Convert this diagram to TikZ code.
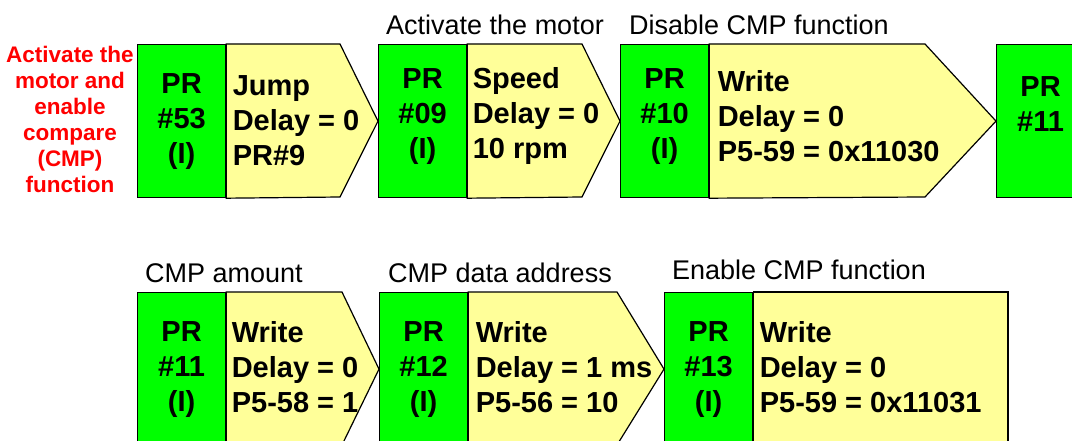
\documentclass[tikz,border=0pt]{standalone}
\usepackage{fontspec}
\setmainfont{Liberation Sans}
\usetikzlibrary{positioning}
\definecolor{prgreen}{RGB}{0,255,0}
\definecolor{cmdyellow}{RGB}{255,255,153}
\definecolor{notered}{RGB}{255,0,0}

\begin{document}
\begin{tikzpicture}[x=1pt,y=-1pt,line width=1.2pt,
  prbox/.style={draw, fill=prgreen, anchor=north west, minimum width=88pt,
    minimum height=153pt, inner sep=0pt, align=center,
    font=\fontsize{29}{35}\selectfont\bfseries},
  raised/.style={text depth=16pt},
  cmdshape/.style={draw, fill=cmdyellow, line join=miter},
  cmdtext/.style={inner sep=0pt, align=left,
    font=\fontsize{29}{35}\selectfont\bfseries},
  note/.style={inner sep=0pt, font=\fontsize{27}{30}\selectfont},
  warn/.style={inner sep=0pt, align=center, text=notered,
    font=\fontsize{22.5}{26}\selectfont\bfseries}]
  \useasboundingbox (0,0) rectangle (1072,441);

  % first row
  \node[prbox] (pr53) at (137,44) {PR\\\#53\\(I)};
  \node[prbox, raised] (pr09) at (378,44) {PR\\\#09\\(I)};
  \node[prbox, raised] (pr10) at (620,44) {PR\\\#10\\(I)};
  \node[prbox] (pr11a) at (996,44) {PR\\\#11\\\mbox{}};
  \draw[cmdshape] (pr53.north east) -- (340,44) -- (pr09.west) -- (340,197) -- (pr53.south east) -- cycle;
  \draw[cmdshape] (pr09.north east) -- (582,44) -- (pr10.west) -- (582,197) -- (pr09.south east) -- cycle;
  \draw[cmdshape] (pr10.north east) -- (925,44) -- (pr11a.west) -- (925,197) -- (pr10.south east) -- cycle;
  \node[cmdtext, right=6pt of pr53] (jump) {Jump\\Delay = 0\\PR\#9};
  \node[cmdtext, right=5pt of pr09, yshift=5pt] (speed) {Speed\\Delay = 0\\10 rpm};
  \node[cmdtext, right=8pt of pr10, yshift=5pt] (wroff) {Write\\Delay = 0\\P5-59 = 0x11030};

  % second row
  \node[prbox] (pr11) at (137,292) {PR\\\#11\\(I)};
  \node[prbox] (pr12) at (379,292) {PR\\\#12\\(I)};
  \node[prbox] (pr13) at (664,292) {PR\\\#13\\(I)};
  \draw[cmdshape] (pr11.north east) -- (342,292) -- (pr12.west) -- (342,445) -- (pr11.south east) -- cycle;
  \draw[cmdshape] (pr12.north east) -- (617,292) -- (pr13.west) -- (617,445) -- (pr12.south east) -- cycle;
  \draw[cmdshape] (pr13.north east) rectangle (1008,445);
  \node[cmdtext, right=5pt of pr11, yshift=2pt] (wramt) {Write\\Delay = 0\\P5-58 = 1};
  \node[cmdtext, right=7pt of pr12, yshift=2pt] (wradr) {Write\\Delay = 1 ms\\P5-56 = 10};
  \node[cmdtext, right=6pt of pr13, yshift=2pt] (wron) {Write\\Delay = 0\\P5-59 = 0x11031};

  % captions
  \node[warn] (cmpnote) at (70,119) {Activate the\\motor and\\enable\\compare\\(CMP)\\function};
  \node[note] (lblmotor) at (495,25) {Activate the motor};
  \node[note] (lbldis) at (759,25) {Disable CMP function};
  \node[note] (lblamt) at (224,273) {CMP amount};
  \node[note] (lbladr) at (500,273) {CMP data address};
  \node[note] (lblen) at (799,270) {Enable CMP function};
\end{tikzpicture}
\end{document}
